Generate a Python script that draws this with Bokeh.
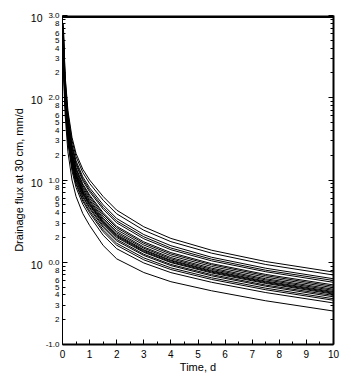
from bokeh.plotting import figure
from bokeh.models import FixedTicker, LogAxis, CustomJSTickFormatter, Span
from bokeh.embed import file_html
from bokeh.resources import INLINE

# ---- data ----
time_d = [0.03, 0.06, 0.1, 0.2, 0.35, 0.5, 0.75, 1, 1.5, 2, 3, 4, 5.5, 7.5, 10]

flux_01 = [800, 400, 180, 70, 33, 21.0, 13.5, 10.0, 6.30, 4.30, 2.70, 1.95, 1.40, 1.02, 0.76]
flux_02 = [733, 366, 166, 64.1, 30.2, 19.2, 12.3, 9.09, 5.68, 3.88, 2.45, 1.78, 1.29, 0.939, 0.70]
flux_03 = [656, 326, 149, 57.5, 27.0, 17.1, 10.9, 8.05, 4.99, 3.40, 2.17, 1.59, 1.15, 0.846, 0.63]
flux_04 = [619, 307, 141, 54.2, 25.4, 16.1, 10.3, 7.55, 4.66, 3.18, 2.04, 1.49, 1.09, 0.80, 0.60]
flux_05 = [591, 292, 135, 51.8, 24.2, 15.3, 9.77, 7.18, 4.41, 3.01, 1.93, 1.42, 1.04, 0.767, 0.57]
flux_06 = [545, 269, 125, 47.8, 22.3, 14.1, 8.95, 6.58, 4.01, 2.74, 1.77, 1.31, 0.962, 0.711, 0.53]
flux_07 = [526, 259, 121, 46.1, 21.5, 13.6, 8.63, 6.32, 3.85, 2.63, 1.70, 1.26, 0.931, 0.687, 0.51]
flux_08 = [502, 247, 116, 44.1, 20.5, 13.0, 8.20, 6.01, 3.64, 2.49, 1.62, 1.20, 0.889, 0.658, 0.49]
flux_09 = [480, 236, 111, 42.1, 19.5, 12.4, 7.82, 5.71, 3.44, 2.36, 1.53, 1.14, 0.849, 0.630, 0.47]
flux_10 = [463, 227, 107, 40.6, 18.8, 11.9, 7.53, 5.50, 3.30, 2.26, 1.48, 1.10, 0.820, 0.610, 0.455]
flux_11 = [447, 219, 104, 39.2, 18.2, 11.5, 7.25, 5.29, 3.17, 2.17, 1.42, 1.06, 0.793, 0.589, 0.44]
flux_12 = [437, 214, 102, 38.3, 17.7, 11.2, 7.08, 5.15, 3.09, 2.11, 1.39, 1.04, 0.776, 0.577, 0.43]
flux_13 = [427, 209, 99.3, 37.4, 17.3, 11.0, 6.90, 5.02, 3.01, 2.06, 1.35, 1.01, 0.759, 0.564, 0.42]
flux_14 = [417, 204, 97.3, 36.6, 16.9, 10.7, 6.73, 4.90, 2.92, 2.00, 1.32, 0.99, 0.741, 0.552, 0.41]
flux_15 = [398, 194, 93.1, 34.9, 16.1, 10.2, 6.41, 4.66, 2.77, 1.90, 1.25, 0.94, 0.708, 0.528, 0.395]
flux_16 = [385, 187, 89.9, 33.7, 15.6, 9.84, 6.17, 4.49, 2.65, 1.82, 1.21, 0.91, 0.684, 0.511, 0.38]
flux_17 = [363, 176, 85.3, 31.8, 14.7, 9.25, 5.79, 4.21, 2.48, 1.70, 1.13, 0.855, 0.647, 0.484, 0.36]
flux_18 = [346, 168, 81.7, 30.4, 14.0, 8.81, 5.52, 4.00, 2.35, 1.61, 1.07, 0.815, 0.618, 0.463, 0.345]
flux_19 = [319, 155, 75.5, 28.1, 12.9, 8.11, 5.06, 3.66, 2.13, 1.46, 0.98, 0.748, 0.571, 0.428, 0.32]
flux_20 = [250, 120, 60, 22, 10, 6.3, 3.9, 2.8, 1.6, 1.10, 0.75, 0.58, 0.45, 0.34, 0.255]

all_flux = [flux_01, flux_02, flux_03, flux_04, flux_05, flux_06, flux_07, flux_08, flux_09, flux_10,
            flux_11, flux_12, flux_13, flux_14, flux_15, flux_16, flux_17, flux_18, flux_19, flux_20]

x_ticks = [0, 1, 2, 3, 4, 5, 6, 7, 8, 9, 10]
x_minor = [0.5, 1.5, 2.5, 3.5, 4.5, 5.5, 6.5, 7.5, 8.5, 9.5]
decades = [0.1, 1, 10, 100, 1000]
decade_exp = ["-1.0", "0.0", "1.0", "2.0", "3.0"]
minor_mult = [2, 3, 4, 5, 6, 7, 8, 9]
minor_labeled = [2, 3, 4, 5, 6, 8]

FONT = "Liberation Sans"
INK = "black"

p = figure(width=351, height=387, x_range=(0, 10), y_range=(0.1, 1000),
           y_axis_type="log", output_backend="svg", toolbar_location=None,
           min_border_left=62, min_border_right=18, min_border_top=15, min_border_bottom=43)
p.outline_line_color = None
p.grid.visible = False
p.background_fill_color = "white"
p.border_fill_color = "white"

for fl in all_flux:
    p.line(time_d, fl, line_color=INK, line_width=1)

y_minor = [d * m for d in decades[:-1] for m in minor_mult]
yticker = FixedTicker(ticks=decades, minor_ticks=y_minor)
xticker = FixedTicker(ticks=x_ticks, minor_ticks=x_minor)

# bottom axis
xa = p.xaxis[0]
xa.ticker = xticker
xa.major_tick_in = 5
xa.major_tick_out = 0
xa.minor_tick_in = 3
xa.minor_tick_out = 0
xa.axis_line_width = 2
xa.axis_line_color = INK
xa.major_tick_line_color = INK
xa.minor_tick_line_color = INK
xa.major_label_text_font = FONT
xa.major_label_text_font_size = "10px"
xa.major_label_text_color = INK
xa.major_label_standoff = 5
xa.axis_label = "Time, d"
xa.axis_label_text_font = FONT
xa.axis_label_text_font_size = "11px"
xa.axis_label_text_font_style = "normal"
xa.axis_label_text_color = INK
xa.axis_label_standoff = 0

# left axis A: line and ticks only
ya = p.yaxis[0]
ya.ticker = yticker
ya.formatter = CustomJSTickFormatter(code="return ''")
ya.major_tick_in = 5
ya.major_tick_out = 0
ya.minor_tick_in = 3
ya.minor_tick_out = 0
ya.axis_line_width = 1
ya.axis_line_color = INK
ya.major_tick_line_color = INK
ya.minor_tick_line_color = INK
ya.major_label_standoff = 0

# left axis B: exponents at decades and mantissa digits at minor ticks
b_ticks = list(decades)
b_text = {}
for d, e in zip(decades, decade_exp):
    b_text[d] = e
for d in decades[:-1]:
    for m in minor_labeled:
        v = d * m
        b_ticks.append(v)
        b_text[v] = str(m)
axis_b = LogAxis(ticker=FixedTicker(ticks=b_ticks, minor_ticks=[]),
                 major_label_overrides=b_text,
                 axis_line_color=None, major_tick_line_color=None, minor_tick_line_color=None,
                 major_tick_in=0, major_tick_out=0, minor_tick_in=0, minor_tick_out=0,
                 major_label_standoff=3, major_label_text_font=FONT,
                 major_label_text_font_size="8px", major_label_text_color=INK)
p.add_layout(axis_b, "left")

# left axis C: the "10" of each decade (set slightly lower than the exponent) + title
shift = 10 ** (-2.5 / 82.25)
c_ticks = [d * shift for d in decades]
axis_c = LogAxis(ticker=FixedTicker(ticks=c_ticks, minor_ticks=[]),
                 major_label_overrides={t: "10" for t in c_ticks},
                 axis_line_color=None, major_tick_line_color=None, minor_tick_line_color=None,
                 major_tick_in=0, major_tick_out=0, minor_tick_in=0, minor_tick_out=0,
                 major_label_standoff=0, major_label_text_font=FONT,
                 major_label_text_font_size="10.5px", major_label_text_color=INK,
                 axis_label="Drainage flux at 30 cm, mm/d", axis_label_text_font=FONT,
                 axis_label_text_font_size="11px", axis_label_text_font_style="normal",
                 axis_label_text_color=INK, axis_label_standoff=3)
p.add_layout(axis_c, "left")

# right axis
ra = LogAxis(ticker=yticker, formatter=CustomJSTickFormatter(code="return ''"),
             major_tick_in=5, major_tick_out=0, minor_tick_in=3, minor_tick_out=0,
             axis_line_width=2, axis_line_color=INK, major_tick_line_color=INK,
             minor_tick_line_color=INK, major_label_standoff=0)
p.add_layout(ra, "right")

# top frame line
p.add_layout(Span(location=1000, dimension="width", line_color=INK, line_width=5))

open("out.html", "w").write(file_html(p, INLINE))
